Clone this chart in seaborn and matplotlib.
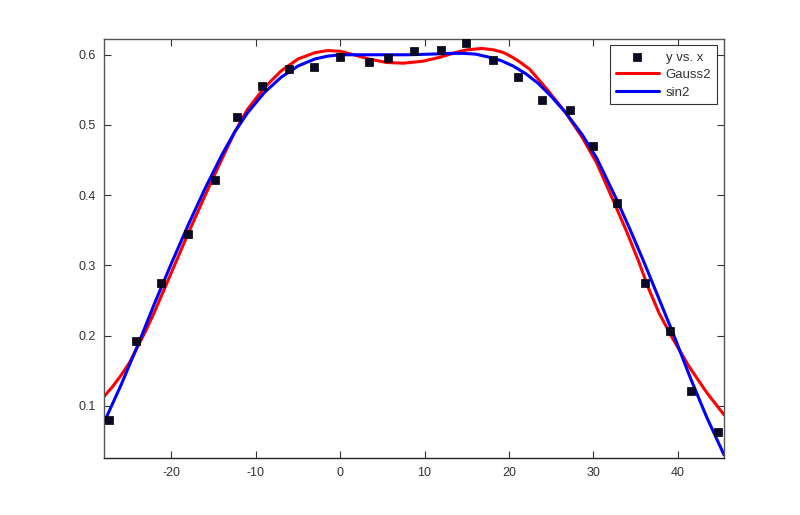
import matplotlib
matplotlib.use('Agg')
import matplotlib.pyplot as plt
import seaborn as sns

# Measured data points (y vs. x)
x_pts = [-27.4, -24.2, -21.2, -18.0, -14.9, -12.2, -9.25, -6.1, -3.1, 0.0,
         3.4, 5.7, 8.8, 12.0, 14.9, 18.1, 21.1, 23.9, 27.2, 30.0,
         32.8, 36.1, 39.1, 41.6, 44.8]
y_pts = [0.079, 0.192, 0.275, 0.345, 0.422, 0.512, 0.555, 0.580, 0.582, 0.597,
         0.589, 0.595, 0.605, 0.607, 0.617, 0.592, 0.568, 0.536, 0.522, 0.470,
         0.389, 0.275, 0.206, 0.121, 0.062]

# Gauss2 fit curve
x_gauss = [-28.0, -27.0, -26.0, -25.0, -24.1, -23.0, -22.0, -20.0, -18.0, -16.0,
           -14.0, -12.5, -11.0, -9.0, -7.0, -5.0, -3.0, -1.5, 0.0, 1.6,
           3.4, 5.5, 7.5, 9.9, 12.0, 13.6, 15.0, 16.8, 18.2, 19.4,
           20.5, 21.5, 22.5, 24.5, 26.7, 28.7, 30.4, 32.2, 34.0, 35.4,
           36.6, 37.8, 39.4, 41.3, 42.3, 43.5, 45.5]
y_gauss = [0.113, 0.127, 0.143, 0.161, 0.182, 0.208, 0.234, 0.290, 0.346, 0.400,
           0.452, 0.490, 0.522, 0.553, 0.577, 0.594, 0.603, 0.606, 0.605, 0.600,
           0.594, 0.589, 0.588, 0.591, 0.597, 0.603, 0.607, 0.609, 0.607, 0.603,
           0.596, 0.588, 0.579, 0.551, 0.518, 0.482, 0.446, 0.397, 0.347, 0.305,
           0.266, 0.232, 0.196, 0.157, 0.139, 0.118, 0.087]

# sin2 fit curve
x_sin = [-28.0, -26.0, -24.0, -22.0, -20.0, -18.0, -16.0, -14.0, -12.5, -11.0,
         -9.0, -7.0, -5.0, -3.0, -1.5, 0.0, 2.0, 5.0, 8.0, 11.0,
         13.0, 14.5, 16.0, 17.5, 19.0, 20.5, 22.0, 23.5, 25.0, 26.7,
         28.7, 30.4, 32.8, 34.4, 36.0, 37.6, 39.4, 41.5, 43.4, 45.5]
y_sin = [0.076, 0.129, 0.186, 0.246, 0.303, 0.358, 0.410, 0.458, 0.490, 0.517,
         0.546, 0.568, 0.584, 0.594, 0.598, 0.600, 0.600, 0.600, 0.600, 0.601,
         0.602, 0.602, 0.601, 0.597, 0.592, 0.584, 0.573, 0.559, 0.541, 0.518,
         0.486, 0.453, 0.393, 0.350, 0.305, 0.258, 0.205, 0.140, 0.085, 0.030]

x_ticks = [-20, -10, 0, 10, 20, 30, 40]
y_ticks = [0.1, 0.2, 0.3, 0.4, 0.5, 0.6]

sns.set_style('white')
plt.rcParams['font.family'] = ['Liberation Sans', 'DejaVu Sans']

fig = plt.figure(figsize=(8, 5.15), dpi=100)
ax = fig.add_axes([0.13, 0.11, 0.775, 0.815])

sns.scatterplot(x=x_pts, y=y_pts, ax=ax, marker='s', s=38, color='#0a0a28',
                edgecolor='#000000', linewidth=0.5, label='y vs. x', zorder=3)
sns.lineplot(x=x_gauss, y=y_gauss, ax=ax, color='#ff0000', linewidth=2.2,
             estimator=None, sort=False, label='Gauss2', zorder=2,
             solid_joinstyle='round')
sns.lineplot(x=x_sin, y=y_sin, ax=ax, color='#0000ff', linewidth=2.2,
             estimator=None, sort=False, label='sin2', zorder=2,
             solid_joinstyle='round')

ax.set_xlim(-28.0, 45.5)
ax.set_ylim(0.025, 0.623)
ax.set_xticks(x_ticks)
ax.set_yticks(y_ticks)
ax.set_xticklabels([str(t) for t in x_ticks])
ax.set_yticklabels([str(t) for t in y_ticks])
ax.tick_params(direction='in', length=5, width=0.8, colors='#333333',
               labelcolor='#333333', labelsize=9, top=True, right=True,
               left=True, bottom=True, pad=6)
for side in ['top', 'right', 'left', 'bottom']:
    ax.spines[side].set_visible(True)
    ax.spines[side].set_color('#555555')
    ax.spines[side].set_linewidth(1.0)
ax.spines['bottom'].set_color('#222222')
ax.set_xlabel('')
ax.set_ylabel('')

leg = ax.legend(loc='upper right', bbox_to_anchor=(0.989, 0.984), fontsize=9.5,
                frameon=True, fancybox=False, edgecolor='#000000',
                handlelength=3.3, handletextpad=0.5, borderpad=0.45,
                labelspacing=0.4, borderaxespad=0.0)
leg.get_frame().set_linewidth(0.8)
for t in leg.get_texts():
    t.set_color('#333333')

fig.savefig('out.png', dpi=100, facecolor='white')
